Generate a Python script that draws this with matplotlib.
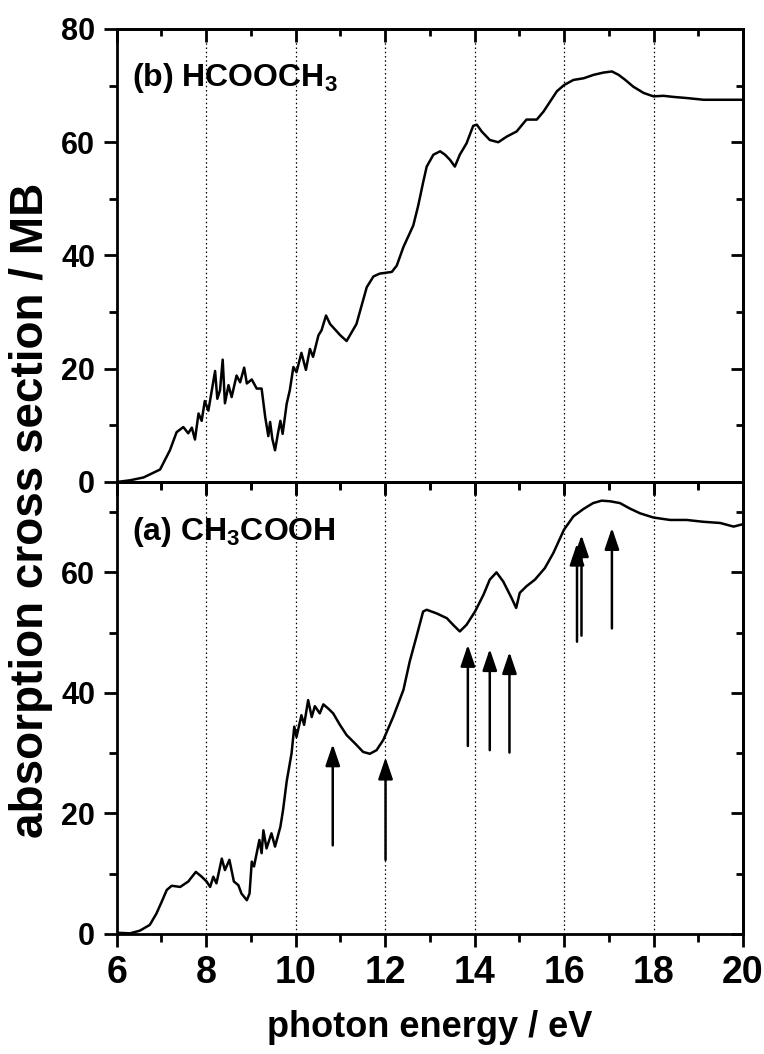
import matplotlib
matplotlib.use("Agg")
import matplotlib.pyplot as plt
from matplotlib.ticker import MultipleLocator

plt.rcParams['font.family'] = ['Liberation Sans', 'DejaVu Sans']
plt.rcParams['font.weight'] = 'bold'
plt.rcParams['mathtext.fontset'] = 'custom'
plt.rcParams['mathtext.bf'] = 'Liberation Sans:bold'

# (b) methyl formate, HCOOCH3
energy_b = [6.0, 6.3, 6.6, 6.97, 7.19, 7.34, 7.49, 7.60, 7.68, 7.75, 7.83, 7.90, 7.97,
            8.05, 8.20, 8.25, 8.31, 8.37, 8.42, 8.50, 8.57, 8.68, 8.76, 8.85, 8.91,
            9.02, 9.13, 9.24, 9.32, 9.39, 9.43, 9.48, 9.54, 9.61, 9.66, 9.71, 9.80,
            9.87, 9.95, 10.02, 10.13, 10.23, 10.32, 10.39, 10.51, 10.58, 10.68, 10.77,
            11.0, 11.14, 11.36, 11.59, 11.74, 11.88, 12.15, 12.26, 12.41, 12.63, 12.74,
            12.85, 12.93, 13.08, 13.23, 13.34, 13.45, 13.56, 13.67, 13.82, 13.97,
            14.05, 14.16, 14.34, 14.53, 14.72, 14.94, 15.16, 15.39, 15.54, 15.69,
            15.84, 16.0, 16.21, 16.44, 16.66, 16.88, 17.07, 17.22, 17.37, 17.55,
            17.78, 18.0, 18.22, 18.45, 18.75, 19.12, 19.49, 20.0]
sigma_b = [0.0, 0.3, 0.8, 2.2, 5.6, 8.8, 9.7, 8.6, 9.6, 7.5, 12.1, 10.8, 14.3,
           12.6, 19.6, 14.7, 16.2, 21.6, 13.9, 17.1, 15.0, 18.8, 17.6, 20.2, 17.4,
           18.1, 16.5, 16.5, 11.5, 8.1, 10.6, 7.6, 5.6, 8.8, 10.8, 8.5, 13.8,
           16.2, 20.3, 19.4, 22.8, 19.8, 23.5, 22.1, 25.9, 26.8, 29.4, 27.9,
           25.9, 24.9, 27.9, 34.4, 36.3, 36.8, 37.1, 38.2, 41.5, 45.3, 48.8,
           52.9, 55.7, 57.8, 58.4, 57.8, 56.9, 55.7, 57.8, 59.8, 62.9,
           63.1, 61.9, 60.4, 60.0, 61.0, 61.9, 64.0, 64.0, 65.4, 67.2,
           69.0, 70.1, 71.0, 71.3, 71.9, 72.3, 72.5, 71.9, 71.0, 69.8,
           68.7, 68.1, 68.2, 68.0, 67.8, 67.5, 67.5, 67.5]

# (a) acetic acid, CH3COOH
energy_a = [6.0, 6.3, 6.52, 6.74, 6.89, 7.01, 7.12, 7.23, 7.42, 7.60, 7.77, 7.90,
            8.01, 8.09, 8.16, 8.23, 8.35, 8.42, 8.52, 8.62, 8.72, 8.79, 8.91, 8.97,
            9.02, 9.07, 9.13, 9.19, 9.24, 9.28, 9.35, 9.46, 9.54, 9.66, 9.72, 9.80,
            9.91, 9.97, 10.02, 10.13, 10.19, 10.28, 10.36, 10.43, 10.54, 10.62, 10.73,
            10.84, 10.99, 11.14, 11.33, 11.51, 11.66, 11.81, 11.96, 12.18, 12.41,
            12.55, 12.70, 12.85, 12.93, 13.15, 13.38, 13.52, 13.67, 13.82, 14.01,
            14.20, 14.34, 14.49, 14.64, 14.83, 14.93, 15.01, 15.16, 15.35, 15.57,
            15.76, 16.0, 16.21, 16.43, 16.65, 16.84, 17.03, 17.25, 17.47, 17.70,
            18.0, 18.37, 18.74, 19.11, 19.49, 19.79, 20.0]
sigma_a = [0.2, 0.1, 0.55, 1.5, 3.4, 5.4, 7.3, 8.0, 7.8, 8.7, 10.3, 9.5,
           8.7, 7.8, 9.5, 8.4, 12.5, 10.6, 12.3, 8.7, 8.1, 6.7, 5.6, 6.7,
           12.0, 11.2, 13.4, 15.6, 13.4, 17.2, 14.2, 16.7, 14.5, 17.8, 20.6, 25.3,
           30.0, 34.4, 32.7, 36.3, 34.7, 38.8, 36.0, 37.8, 36.6, 38.1, 37.4,
           36.6, 34.7, 33.0, 31.6, 30.2, 29.9, 30.5, 32.2, 36.0, 40.5,
           45.2, 49.3, 53.5, 53.8, 53.2, 52.4, 51.3, 50.2, 51.3, 53.5,
           56.3, 58.8, 60.0, 58.5, 55.7, 54.1, 56.6, 57.7, 58.8, 60.7,
           63.2, 67.1, 69.3, 70.5, 71.5, 71.9, 71.8, 71.5, 70.6, 69.8,
           69.1, 68.7, 68.7, 68.4, 68.2, 67.6, 68.0]

# arrows marking features in the CH3COOH spectrum
arrow_x = [10.83, 12.01, 13.85, 14.34, 14.78, 16.29, 16.39, 17.07]
arrow_tail = [14.7, 12.3, 31.2, 30.5, 30.1, 48.5, 49.5, 50.7]
arrow_tip = [31.5, 29.3, 48.0, 47.3, 46.8, 64.8, 66.2, 67.4]

grid_x = [8, 10, 12, 14, 16, 18]

fig = plt.figure(figsize=(7.64, 10.54), dpi=100)
ax_b = fig.add_axes([0.1527, 0.1139, 0.8198, 0.4288])
ax_t = fig.add_axes([0.1527, 0.5427, 0.8198, 0.4298])
ax_t.set_facecolor('none')


def style_panel(ax, ymax):
    ax.set_xlim(6, 20)
    ax.set_ylim(0, ymax)
    ax.xaxis.set_major_locator(MultipleLocator(2))
    ax.xaxis.set_minor_locator(MultipleLocator(1))
    ax.yaxis.set_major_locator(MultipleLocator(20))
    ax.yaxis.set_minor_locator(MultipleLocator(10))
    for s in ax.spines.values():
        s.set_linewidth(2)
    ax.tick_params(which='major', direction='out', length=9.5, width=2)
    ax.tick_params(which='minor', direction='out', length=5.5, width=2)
    ax.tick_params(axis='y', labelsize=22, pad=6)
    ax.tick_params(axis='x', labelsize=27, pad=6)
    for x in grid_x:
        ax.axvline(x, color='k', lw=0.9, ls=(0, (1.2, 2.2)), zorder=1)

    # inward ticks on the right and top sides
    right = ax.secondary_yaxis('right')
    right.yaxis.set_major_locator(MultipleLocator(20))
    right.yaxis.set_minor_locator(MultipleLocator(10))
    right.tick_params(which='major', direction='in', length=9, width=2, labelright=False)
    right.tick_params(which='minor', direction='in', length=5, width=2)
    right.spines['right'].set_linewidth(2)
    top = ax.secondary_xaxis('top')
    top.xaxis.set_major_locator(MultipleLocator(2))
    top.xaxis.set_minor_locator(MultipleLocator(1))
    top.tick_params(which='major', direction='in', length=9, width=2, labeltop=False)
    top.tick_params(which='minor', direction='in', length=5, width=2)
    top.spines['top'].set_linewidth(2)


style_panel(ax_t, 80)
style_panel(ax_b, 75)
ax_t.tick_params(labelbottom=False)

ax_t.plot(energy_b, sigma_b, color='k', lw=1.8, zorder=3)
ax_b.plot(energy_a, sigma_a, color='k', lw=1.8, zorder=3)

for x, y0, y1 in zip(arrow_x, arrow_tail, arrow_tip):
    ax_b.annotate('', xy=(x, y1), xytext=(x, y0),
                  arrowprops=dict(arrowstyle='-|>,head_length=0.65,head_width=0.22',
                                  lw=1.8, color='k', shrinkA=0, shrinkB=0,
                                  mutation_scale=20))

ax_t.text(6.34, 70.0, r'(b) HCOOCH$_\mathbf{3}$', fontsize=23, fontweight='bold',
          va='baseline', ha='left')
ax_b.text(6.34, 65.3, r'(a) CH$_\mathbf{3}$COOH', fontsize=23, fontweight='bold',
          va='baseline', ha='left')

fig.text(0.04, 0.516, 'absorption cross section / MB', rotation=90,
         fontsize=33, fontweight='bold', ha='center', va='center')
fig.text(0.5627, 0.016, 'photon energy / eV', fontsize=26, fontweight='bold',
         ha='center', va='baseline')

fig.savefig('out.png', dpi=100)
